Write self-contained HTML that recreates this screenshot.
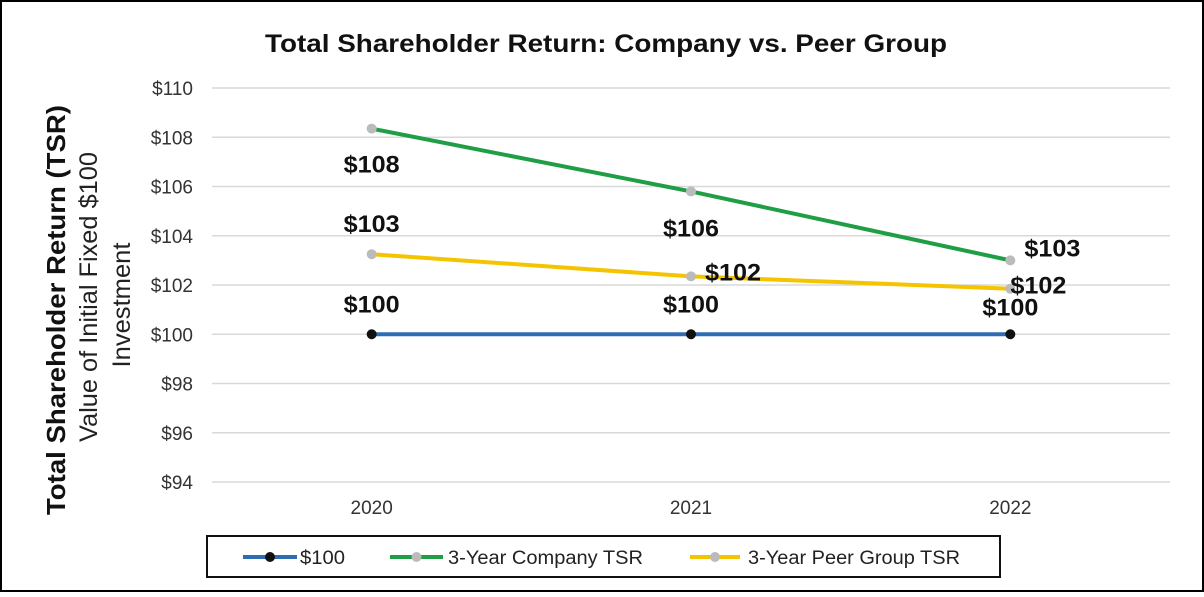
<!DOCTYPE html>
<html><head><meta charset="utf-8"><style>
body{margin:0;background:#fff;}
#c{width:1204px;height:592px;position:relative;font-family:"Liberation Sans",sans-serif;}
</style></head><body>
<div id="c">
<svg id="s" width="1204" height="592"></svg>
</div>
<script>
const categories=["2020","2021","2022"];
const baseline=[100,100,100];
const companyTSR=[108.35,105.8,103.0];
const peerTSR=[103.25,102.35,101.85];
const baselineLabels=["$100","$100","$100"];
const companyLabels=["$108","$106","$103"];
const peerLabels=["$103","$102","$102"];
const yTicks=[94,96,98,100,102,104,106,108,110];

const NS="http://www.w3.org/2000/svg";
const svg=document.getElementById('s');
function el(t,a,txt){const e=document.createElementNS(NS,t);for(const k in a)e.setAttribute(k,a[k]);if(txt!==undefined)e.textContent=txt;svg.appendChild(e);return e;}
const x0=212,x1=1170,yTop=88,yBot=482;
const y=v=>yBot-(v-94)/(110-94)*(yBot-yTop);
const x=i=>x0+(i+0.5)*(x1-x0)/categories.length;

let e=el('rect',{x:1,y:1,width:1202,height:590,fill:'#fff',stroke:'#000','stroke-width':2});

e=el('text',{x:265,y:52,'font-size':25,'font-weight':'bold',fill:'#111',textLength:682,lengthAdjust:'spacingAndGlyphs'},'Total Shareholder Return: Company vs. Peer Group');


yTicks.forEach(t=>{
 let g=el('line',{x1:x0,x2:x1,y1:y(t),y2:y(t),stroke:'#d9d9d9','stroke-width':1.5});
 
 let l=el('text',{x:193,y:y(t)+7,'text-anchor':'end','font-size':19,fill:'#333'},'$'+t);
 
});
categories.forEach((c,i)=>{
 let l=el('text',{x:x(i),y:514,'text-anchor':'middle','font-size':19,fill:'#333'},c);
 
});
e=el('text',{transform:'translate(65,310) rotate(-90)','text-anchor':'middle','font-size':26,'font-weight':'bold',fill:'#111',textLength:410,lengthAdjust:'spacingAndGlyphs'},'Total Shareholder Return (TSR)');

e=el('text',{transform:'translate(97,297) rotate(-90)','text-anchor':'middle','font-size':25,fill:'#222',textLength:290,lengthAdjust:'spacingAndGlyphs'},'Value of Initial Fixed $100');

e=el('text',{transform:'translate(130,305) rotate(-90)','text-anchor':'middle','font-size':25,fill:'#222',textLength:125,lengthAdjust:'spacingAndGlyphs'},'Investment');


function series(vals,color,dot,name){
 let p=el('polyline',{points:vals.map((v,i)=>x(i)+','+y(v)).join(' '),fill:'none',stroke:color,'stroke-width':4});
 
 vals.forEach((v,i)=>{let c=el('circle',{cx:x(i),cy:y(v),r:5,fill:dot});
 });
}
series(baseline,'#2e6db4','#111','baseline');
series(peerTSR,'#f5c400','#bbb','peer-tsr');
series(companyTSR,'#1f9e45','#bbb','company-tsr');

const offs={b:[[0,-30],[0,-30],[0,-27]],c:[[0,36],[0,37],[42,-12]],p:[[0,-30],[42,-4],[28,-3]]};
function labels(vals,labs,o,name){vals.forEach((v,i)=>{
 let t=el('text',{x:x(i)+o[i][0]-28,y:y(v)+o[i][1]+8,'font-size':24,'font-weight':'bold',fill:'#111',textLength:56,lengthAdjust:'spacingAndGlyphs'},labs[i]);
 });}
labels(baseline,baselineLabels,offs.b,'baseline');
labels(companyTSR,companyLabels,offs.c,'company-tsr');
labels(peerTSR,peerLabels,offs.p,'peer-tsr');

e=el('rect',{x:207,y:536,width:793,height:41,fill:'#fff',stroke:'#111','stroke-width':2});

[['$100','#2e6db4','#111',243,54,300,45],['3-Year Company TSR','#1f9e45','#bbb',390,53,448,195],['3-Year Peer Group TSR','#f5c400','#bbb',690,50,748,212]].forEach(([n,c,d,lx,lw,tx,tw])=>{
 let l=el('line',{x1:lx,x2:lx+lw,y1:557,y2:557,stroke:c,'stroke-width':4});
 
 let ci=el('circle',{cx:lx+lw/2,cy:557,r:5,fill:d});
 
 let t=el('text',{x:tx,y:564,'font-size':19,fill:'#222',textLength:tw,lengthAdjust:'spacingAndGlyphs'},n);
 
});
</script>
</body></html>
